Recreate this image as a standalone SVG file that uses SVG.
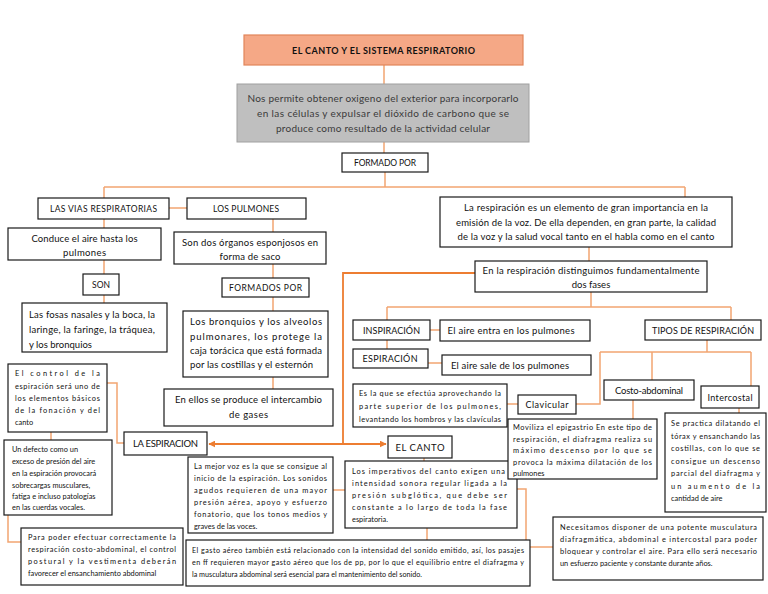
<svg xmlns="http://www.w3.org/2000/svg" width="768" height="594" viewBox="0 0 768 594">
<defs>
<style>
.b{fill:#fff;stroke:#1a1a1a;stroke-width:1.2}
.t{font-family:Lato,"Liberation Sans",sans-serif;fill:#111}
.c{text-anchor:middle}
.m{font-size:9.5px}
.s{font-size:7.4px}
.k{fill:none;stroke:#F2A572;stroke-width:1.5}
.a{fill:none;stroke:#ED7D31;stroke-width:1.8}
</style>
<marker id="ah" viewBox="0 0 10 10" refX="9" refY="5" markerWidth="7" markerHeight="7" orient="auto-start-reverse" markerUnits="userSpaceOnUse">
<path d="M0,0 L10,5 L0,10 z" fill="#ED7D31"/>
</marker>
</defs>
<rect width="768" height="594" fill="#fff"/>
<g id="connectors">
<path class="k" d="M384 65V84M384 142V153M385 172V187M104 187H685M104 187V198M685 187V197"/>
<path class="k" d="M169 208H187M104 219V228M104 260V274M104 295V303"/>
<path class="k" d="M273 219V232M273 264V278M273 297V311M273 377V389"/>
<path class="k" d="M589 247V261M591 292V307M387 307H731M387 307V320M731 307V320"/>
<path class="k" d="M430 330H440M387 340V349M428 363H442"/>
<path class="k" d="M707 340V352M600 352H751M600 352V404H576M652 352V380M751 352V386"/>
<path class="k" d="M507 404H518M633 400V419M739 408V413"/>
<path class="k" d="M424 458V461M333 490H345M517 489H526V547H553M427 528V540"/>
<path class="k" d="M107 383H117V443H124M51 432V440M8 515V542H21"/>
<path class="a" d="M475 273H343V444"/>
<path class="a" d="M343 444H209" marker-end="url(#ah)"/>
<path class="a" d="M343 444H386" marker-end="url(#ah)"/>
</g>
<g id="title">
<rect x="244" y="35" width="279" height="30" fill="#F5A886" stroke="#E2855A" stroke-width="1.2"/>
<text class="t c" x="383.5" y="53.5" font-size="9" font-weight="700" textLength="183">EL CANTO Y EL SISTEMA RESPIRATORIO</text>
</g>
<g id="definicion">
<rect x="237" y="84" width="292" height="58" fill="#BFBFBF" stroke="#A0A0A0" stroke-width="1"/>
<text class="t c" x="383" y="101.5" font-size="10" style="fill:#3a3a3a" textLength="271">Nos permite obtener oxigeno del exterior para incorporarlo</text>
<text class="t c" x="383" y="117" font-size="10" style="fill:#3a3a3a" textLength="252">en las células y expulsar el dióxido de carbono que se</text>
<text class="t c" x="383" y="132" font-size="10" style="fill:#3a3a3a" textLength="214">produce como resultado de la actividad celular</text>
</g>
<g id="formado-por">
<rect class="b" x="342" y="153" width="86" height="19"/>
<text class="t c" x="385" y="166" font-size="8.5" textLength="62">FORMADO POR</text>
</g>
<g id="vias">
<rect class="b" x="38" y="198" width="131" height="21"/>
<text class="t c" x="103.5" y="211.5" font-size="8.5" textLength="107">LAS VIAS RESPIRATORIAS</text>
</g>
<g id="pulmones">
<rect class="b" x="187" y="198" width="119" height="21"/>
<text class="t c" x="246" y="211.5" font-size="8.5" textLength="66">LOS PULMONES</text>
</g>
<g id="conduce">
<rect class="b" x="8" y="228" width="153" height="32"/>
<text class="t c m" x="84.5" y="241.5" textLength="106">Conduce el aire hasta los</text>
<text class="t c m" x="84.5" y="256" textLength="43">pulmones</text>
</g>
<g id="son">
<rect class="b" x="83" y="274" width="36" height="21"/>
<text class="t c" x="101" y="288" font-size="8.5">SON</text>
</g>
<g id="fosas">
<rect class="b" x="22" y="303" width="145" height="49"/>
<text class="t m" x="29" y="318" textLength="126">Las fosas nasales y la boca, la</text>
<text class="t m" x="29" y="333" textLength="126">laringe, la faringe, la tráquea,</text>
<text class="t m" x="29" y="348">y los bronquios</text>
</g>
<g id="organos">
<rect class="b" x="174" y="232" width="152" height="32"/>
<text class="t c m" x="250" y="245.5" textLength="136">Son dos órganos esponjosos en</text>
<text class="t c m" x="250" y="259.5" textLength="61">forma de saco</text>
</g>
<g id="formados-por">
<rect class="b" x="222" y="278" width="87" height="19"/>
<text class="t c" x="265.5" y="291" font-size="8.5" textLength="73">FORMADOS POR</text>
</g>
<g id="bronquios">
<rect class="b" x="183" y="311" width="145" height="66"/>
<text class="t m" x="190" y="325" textLength="132">Los bronquios y los alveolos</text>
<text class="t m" x="190" y="339.5" textLength="132">pulmonares, los protege la</text>
<text class="t m" x="190" y="353.5" textLength="132">caja torácica que está formada</text>
<text class="t m" x="190" y="367.5" textLength="123">por las costillas y el esternón</text>
</g>
<g id="intercambio">
<rect class="b" x="164" y="389" width="169" height="37"/>
<text class="t c m" x="248.5" y="403" textLength="147">En ellos se produce el intercambio</text>
<text class="t c m" x="248.5" y="418" textLength="39">de gases</text>
</g>
<g id="importancia">
<rect class="b" x="440" y="197" width="292" height="50"/>
<text class="t c m" x="586" y="211" textLength="244">La respiración es un elemento de gran importancia en la</text>
<text class="t c m" x="586" y="225.5" textLength="260">emisión de la voz. De ella dependen, en gran parte, la calidad</text>
<text class="t c m" x="586" y="240" textLength="257">de la voz y la salud vocal tanto en el habla como en el canto</text>
</g>
<g id="fases">
<rect class="b" x="475" y="261" width="232" height="31"/>
<text class="t c m" x="591" y="274" textLength="217">En la respiración distinguimos fundamentalmente</text>
<text class="t c m" x="591" y="288">dos fases</text>
</g>
<g id="inspiracion">
<rect class="b" x="353" y="320" width="77" height="20"/>
<text class="t c" x="391.5" y="333.5" font-size="9" textLength="57">INSPIRACIÓN</text>
</g>
<g id="aire-entra">
<rect class="b" x="440" y="320" width="150" height="21"/>
<text class="t c m" x="511" y="334" textLength="127">El aire entra en los pulmones</text>
</g>
<g id="espiracion">
<rect class="b" x="353" y="349" width="75" height="19"/>
<text class="t c" x="390" y="362" font-size="9" textLength="55">ESPIRACIÓN</text>
</g>
<g id="aire-sale">
<rect class="b" x="442" y="355" width="149" height="20"/>
<text class="t c m" x="510" y="369" textLength="118">El aire sale de los pulmones</text>
</g>
<g id="tipos">
<rect class="b" x="645" y="320" width="116" height="20"/>
<text class="t c" x="703" y="333.5" font-size="9" textLength="102">TIPOS DE RESPIRACIÓN</text>
</g>
<g id="costo">
<rect class="b" x="604" y="380" width="90" height="20"/>
<text class="t c m" x="649" y="393.5" textLength="68">Costo-abdominal</text>
</g>
<g id="intercostal">
<rect class="b" x="701" y="386" width="58" height="22"/>
<text class="t c" x="730" y="400.5" font-size="9" textLength="45">Intercostal</text>
</g>
<g id="clavicular">
<rect class="b" x="518" y="395" width="58" height="19"/>
<text class="t c" x="547" y="408" font-size="9" textLength="43">Clavicular</text>
</g>
<g id="clavicular-desc">
<rect class="b" x="353" y="384" width="154" height="43"/>
<text class="t s" x="359" y="396" textLength="142">Es la que se efectúa aprovechando la</text>
<text class="t s" x="359" y="409" textLength="142">parte superior de los pulmones,</text>
<text class="t s" x="359" y="421.5" textLength="142">levantando los hombros y las clavículas</text>
</g>
<g id="se-practica">
<rect class="b" x="665" y="413" width="101" height="99"/>
<text class="t s" x="671" y="426" textLength="89">Se practica dilatando el</text>
<text class="t s" x="671" y="438.5" textLength="89">tórax y ensanchando las</text>
<text class="t s" x="671" y="451" textLength="89">costillas, con lo que se</text>
<text class="t s" x="671" y="463.5" textLength="89">consigue un descenso</text>
<text class="t s" x="671" y="476" textLength="89">parcial del diafragma y</text>
<text class="t s" x="671" y="488.5" textLength="89">un aumento de la</text>
<text class="t s" x="671" y="501">cantidad de aire</text>
</g>
<g id="el-canto">
<rect class="b" x="388" y="436" width="64" height="22"/>
<text class="t c m" x="420" y="450.5" textLength="49">EL CANTO</text>
</g>
<g id="la-espiracion">
<rect class="b" x="124" y="432" width="83" height="23"/>
<text class="t c m" x="165.5" y="447" textLength="65">LA ESPIRACION</text>
</g>
<g id="mejor-voz">
<rect class="b" x="188" y="457" width="145" height="76"/>
<text class="t s" x="194" y="469" textLength="133">La mejor voz es la que se consigue al</text>
<text class="t s" x="194" y="481" textLength="133">inicio de la espiración. Los sonidos</text>
<text class="t s" x="194" y="493" textLength="133">agudos requieren de una mayor</text>
<text class="t s" x="194" y="505" textLength="133">presión aérea, apoyo y esfuerzo</text>
<text class="t s" x="194" y="517" textLength="133">fonatorio, que los tonos medios y</text>
<text class="t s" x="194" y="529">graves de las voces.</text>
</g>
<g id="imperativos">
<rect class="b" x="345" y="461" width="172" height="67"/>
<text class="t s" x="352" y="474" textLength="153">Los imperativos del canto exigen una</text>
<text class="t s" x="352" y="486" textLength="155">intensidad sonora regular ligada a la</text>
<text class="t s" x="352" y="498" textLength="155">presión subglótica, que debe ser</text>
<text class="t s" x="352" y="510" textLength="155">constante a lo largo de toda la fase</text>
<text class="t s" x="352" y="522">espiratoria.</text>
</g>
<g id="moviliza">
<rect class="b" x="508" y="419" width="149" height="60"/>
<text class="t s" x="513" y="430" textLength="139">Moviliza el epigastrio En este tipo de</text>
<text class="t s" x="513" y="441.5" textLength="139">respiración, el diafragma realiza su</text>
<text class="t s" x="513" y="453" textLength="139">máximo descenso por lo que se</text>
<text class="t s" x="513" y="464.5" textLength="139">provoca la máxima dilatación de los</text>
<text class="t s" x="513" y="475.5">pulmones</text>
</g>
<g id="gasto">
<rect class="b" x="186" y="540" width="344" height="46"/>
<text class="t" x="192" y="553" font-size="7.2" textLength="332">El gasto aéreo también está relacionado con la intensidad del sonido emitido, así, los pasajes</text>
<text class="t" x="192" y="565" font-size="7.2" textLength="332">en ff requieren mayor gasto aéreo que los de pp, por lo que el equilibrio entre el diafragma y</text>
<text class="t" x="192" y="577" font-size="7.2">la musculatura abdominal será esencial para el mantenimiento del sonido.</text>
</g>
<g id="necesitamos">
<rect class="b" x="553" y="517" width="210" height="63"/>
<text class="t s" x="560" y="529.5" textLength="197">Necesitamos disponer de una potente musculatura</text>
<text class="t s" x="560" y="541.5" textLength="197">diafragmática, abdominal e intercostal para poder</text>
<text class="t s" x="560" y="554" textLength="197">bloquear y controlar el aire. Para ello será necesario</text>
<text class="t s" x="560" y="566">un esfuerzo paciente y constante durante años.</text>
</g>
<g id="control">
<rect class="b" x="8" y="364" width="99" height="68"/>
<text class="t s" x="15" y="376" textLength="85">El control de la</text>
<text class="t s" x="15" y="389" textLength="85">espiración será uno de</text>
<text class="t s" x="15" y="401" textLength="85">los elementos básicos</text>
<text class="t s" x="15" y="413" textLength="85">de la fonación y del</text>
<text class="t s" x="15" y="424.5">canto</text>
</g>
<g id="defecto">
<rect class="b" x="4" y="440" width="108" height="75"/>
<text class="t s" x="12" y="452">Un defecto como un</text>
<text class="t s" x="12" y="464">exceso de presión del aire</text>
<text class="t s" x="12" y="476">en la espiración provocará</text>
<text class="t s" x="12" y="487.5">sobrecargas musculares,</text>
<text class="t s" x="12" y="498.5">fatiga e incluso patologías</text>
<text class="t s" x="12" y="509.5">en las cuerdas vocales.</text>
</g>
<g id="para-poder">
<rect class="b" x="21" y="528" width="162" height="57"/>
<text class="t s" x="28" y="539.5" textLength="148">Para poder efectuar correctamente la</text>
<text class="t s" x="28" y="552" textLength="148">respiración costo-abdominal, el control</text>
<text class="t s" x="28" y="564" textLength="148">postural y la vestimenta deberán</text>
<text class="t s" x="28" y="576">favorecer el ensanchamiento abdominal</text>
</g>
</svg>
